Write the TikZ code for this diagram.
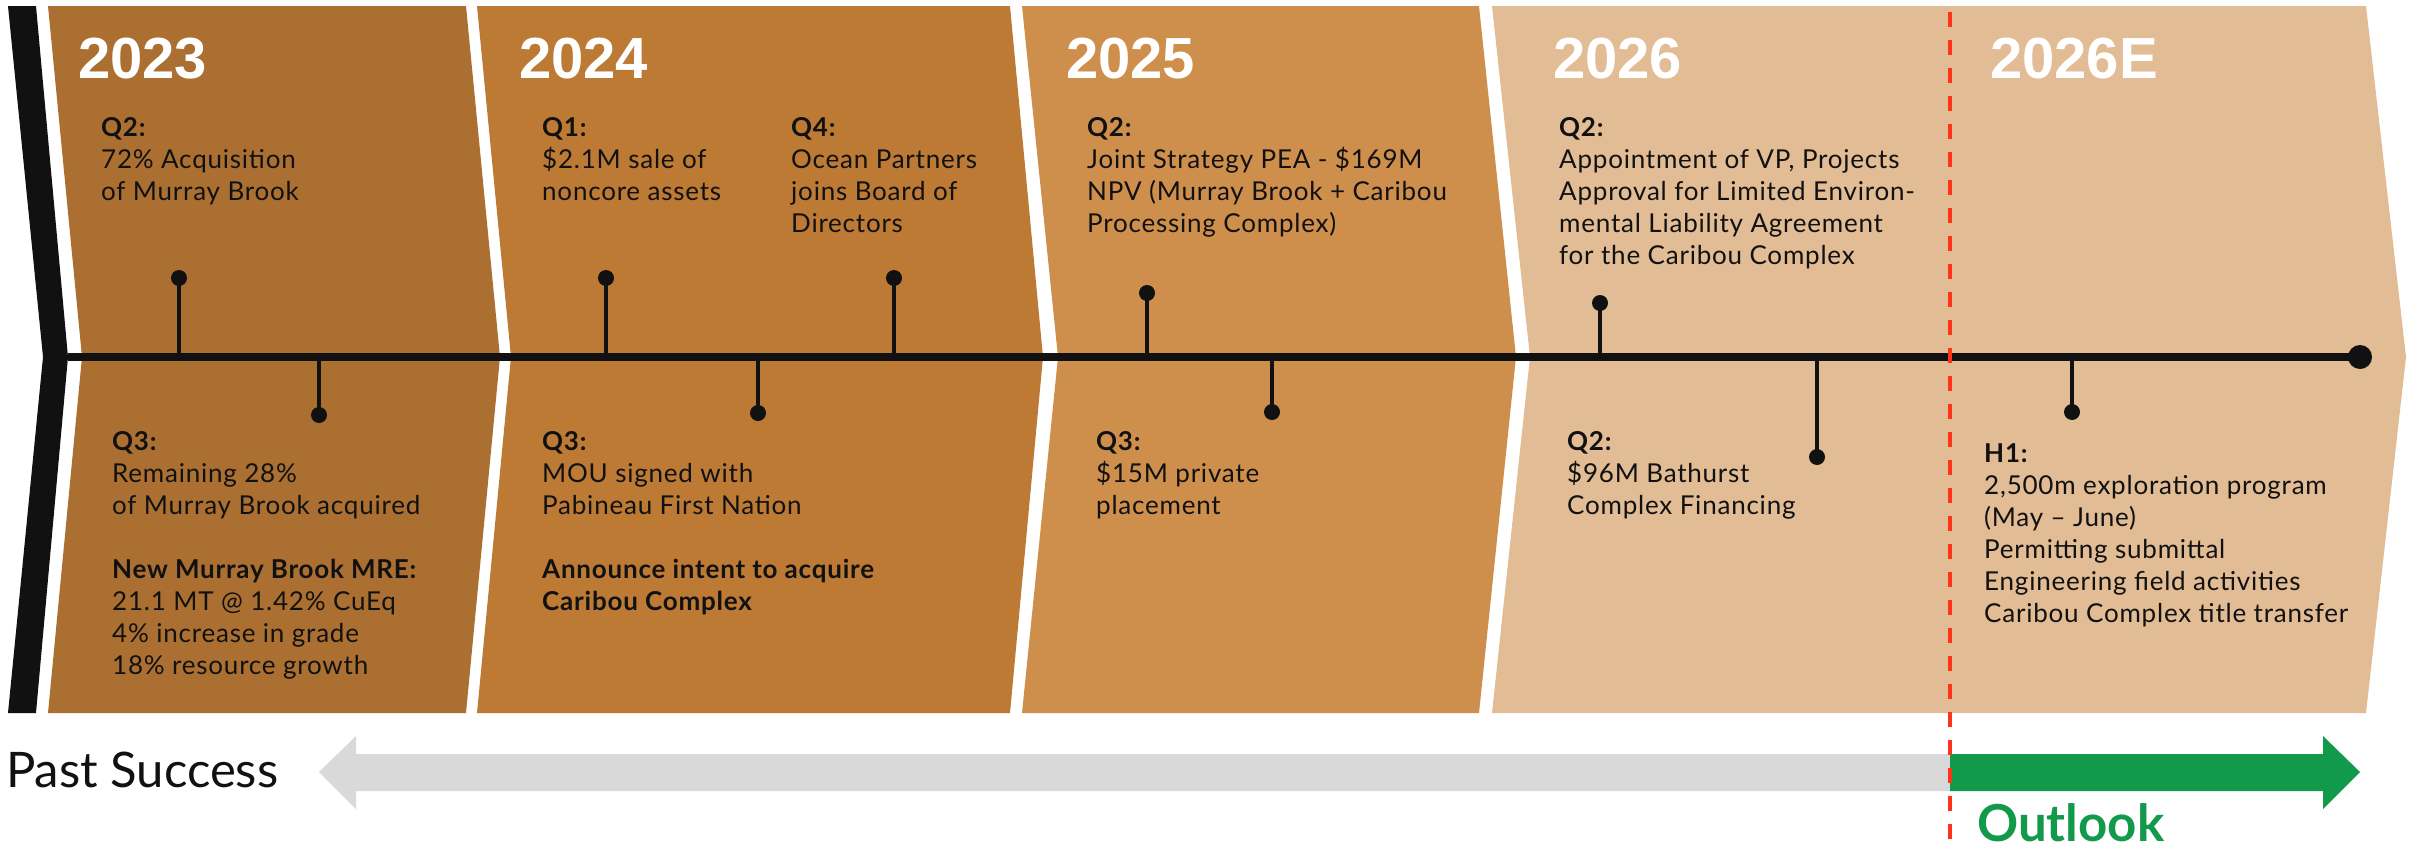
\documentclass[tikz,border=0pt]{standalone}
\usepackage{fontspec}
\setmainfont{Lato}[LetterSpace=3]
\newfontfamily\plainfont{Lato}
\newfontfamily\yearfont{Liberation Sans}
\definecolor{yrA}{HTML}{AB7031}
\definecolor{yrB}{HTML}{BC7A35}
\definecolor{yrC}{HTML}{CF8F4C}
\definecolor{yrD}{HTML}{E2BC94}
\definecolor{inkblack}{HTML}{111111}
\definecolor{cutred}{HTML}{FF3319}
\definecolor{outgreen}{HTML}{129A4A}
\definecolor{pastgrey}{HTML}{D9D9D9}

\begin{document}
\begin{tikzpicture}[x=1pt,y=-1pt,
  year/.style={font=\yearfont\bfseries\fontsize{58}{58}\selectfont,text=white,anchor=base west,inner sep=0pt},
  event/.style={font=\fontsize{26}{32}\selectfont,text=inkblack,align=left,anchor=base west,inner sep=0pt},
  dotmark/.style={circle,fill=inkblack,minimum size=16pt,inner sep=0pt},
  stem/.style={draw=inkblack,line width=4pt}]

\useasboundingbox (0,0) rectangle (2420,849);

\fill [inkblack] (8,6) -- (36,6) -- (68,357) -- (36,713) -- (8,713) -- (43,357) -- cycle;
\fill [yrA] (48,6) -- (466,6) -- (500,357) -- (466,713) -- (48,713) -- (82,357) -- cycle;
\fill [yrB] (477,6) -- (1010,6) -- (1043,357) -- (1010,713) -- (477,713) -- (511,357) -- cycle;
\fill [yrC] (1022,6) -- (1479,6) -- (1516,357) -- (1479,713) -- (1022,713) -- (1058,357) -- cycle;
\fill [yrD] (1492,6) -- (2366,6) -- (2406,357) -- (2366,713) -- (1492,713) -- (1530,357) -- cycle;

\node (y23) at (78,78) [year] {2023};
\node (y24) at (519,78) [year] {2024};
\node (y25) at (1066,78) [year] {2025};
\node (y26) at (1553,78) [year] {2026};
\node (y26e) at (1990,78) [year] {2026E};

\node (e23a) at (101,200) [event] {\textbf{Q2:}\\72\% Acquisition\\of Murray Brook};
\node (e23b) at (112,674) [event] {\textbf{Q3:}\\Remaining 28\%\\of Murray Brook acquired\\[32pt]\textbf{New Murray Brook MRE:}\\21.1 MT @ 1.42\% CuEq\\4\% increase in grade\\18\% resource growth};
\node (e24a) at (542,200) [event] {\textbf{Q1:}\\\$2.1M sale of\\noncore assets};
\node (e24b) at (791,232) [event] {\textbf{Q4:}\\Ocean Partners\\joins Board of\\Directors};
\node (e24c) at (542,610) [event] {\textbf{Q3:}\\MOU signed with\\Pabineau First Nation\\[32pt]\textbf{Announce intent to acquire}\\\textbf{Caribou Complex}};
\node (e25a) at (1087,232) [event] {\textbf{Q2:}\\Joint Strategy PEA - \$169M\\NPV (Murray Brook + Caribou\\Processing Complex)};
\node (e25b) at (1096,514) [event] {\textbf{Q3:}\\\$15M private\\placement};
\node (e26a) at (1559,264) [event] {\textbf{Q2:}\\Appointment of VP, Projects\\Approval for Limited Environ-\\mental Liability Agreement\\for the Caribou Complex};
\node (e26b) at (1567,514) [event] {\textbf{Q2:}\\\$96M Bathurst\\Complex Financing};
\node (e26e) at (1984,622) [event] {\textbf{H1:}\\2,500m exploration program\\(May – June)\\Permitting submittal\\Engineering field activities\\Caribou Complex title transfer};

\coordinate (tl) at (68,357);
\node (tlend) at (2360,357) [circle,fill=inkblack,minimum size=24pt,inner sep=0pt] {};
\draw [inkblack,line width=8pt] (tl) -- (tlend.center);

\node (d23a) at (179,278) [dotmark] {};
\node (d23b) at (319,415) [dotmark] {};
\node (d24a) at (606,278) [dotmark] {};
\node (d24b) at (758,413) [dotmark] {};
\node (d24c) at (894,278) [dotmark] {};
\node (d25a) at (1147,293) [dotmark] {};
\node (d25b) at (1272,412) [dotmark] {};
\node (d26a) at (1600,303) [dotmark] {};
\node (d26b) at (1817,457) [dotmark] {};
\node (d26e) at (2072,412) [dotmark] {};
\foreach \d in {d23a,d23b,d24a,d24b,d24c,d25a,d25b,d26a,d26b,d26e}
  \draw [stem] (\d.center) -- (\d |- tl);

\fill [pastgrey] (1950,754) -- (356,754) -- (356,736) -- (319,772) -- (356,809) -- (356,791) -- (1950,791) -- cycle;
\fill [outgreen] (1950,754) -- (2323,754) -- (2323,736) -- (2360,772) -- (2323,809) -- (2323,791) -- (1950,791) -- cycle;

\node (past) at (6,787) [font=\plainfont\fontsize{49}{49}\selectfont,text=inkblack,anchor=base west,inner sep=0pt] {Past Success};
\node (outlook) at (1977,841) [font=\plainfont\bfseries\fontsize{51}{51}\selectfont,text=outgreen,anchor=base west,inner sep=0pt] {Outlook};

\coordinate (cuttop) at (1950,12);
\coordinate (cutbot) at (1950,840);
\draw [cutred,line width=4pt,dash pattern=on 15pt off 13pt] (cuttop) -- (cutbot);

\end{tikzpicture}
\end{document}
